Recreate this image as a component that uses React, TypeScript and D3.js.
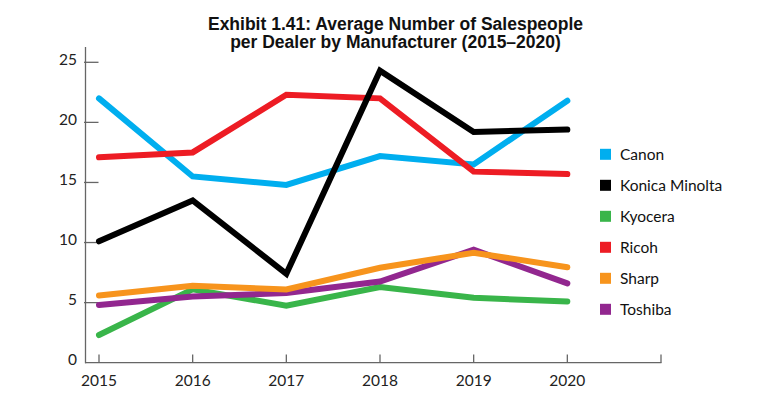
import React, { useEffect, useRef } from "react";
import * as d3 from "d3";

const years = [2015, 2016, 2017, 2018, 2019, 2020];
const yTicks = [0, 5, 10, 15, 20, 25];

const canon = [22.0, 15.5, 14.8, 17.2, 16.5, 21.8];
const konica = [10.1, 13.5, 7.4, 24.3, 19.2, 19.4];
const kyocera = [2.3, 6.1, 4.75, 6.3, 5.4, 5.1];
const ricoh = [17.1, 17.5, 22.3, 22.0, 15.9, 15.7];
const sharp = [5.6, 6.4, 6.1, 7.9, 9.15, 7.95];
const toshiba = [4.8, 5.5, 5.8, 6.75, 9.4, 6.6];

const seriesNames = ["Canon", "Konica Minolta", "Kyocera", "Ricoh", "Sharp", "Toshiba"];
const seriesValues = [canon, konica, kyocera, ricoh, sharp, toshiba];
const colors = ["#00aeef", "#000000", "#39b54a", "#ed1c24", "#f7941d", "#92278f"];
// draw order so the lines overlap like the original
const drawOrder = [2, 5, 4, 0, 3, 1];

export default function App() {
  const ref = useRef<SVGSVGElement>(null);

  useEffect(() => {
    const svg = d3.select(ref.current);
    svg.selectAll("*").remove();

    const x = d3.scaleLinear().domain([2015, 2021]).range([99, 661]);
    const y = d3.scaleLinear().domain([0, 25]).range([362.7, 62.3]);
    const axisColor = "#666";
    const font = "Lato, 'Open Sans', sans-serif";

    // title
    const title = svg.append("text")
      .attr("text-anchor", "middle")
      .attr("font-family", "'Liberation Sans', Arial, sans-serif")
      .attr("font-weight", "bold")
      .attr("font-size", 17.5)
      .attr("fill", "#111");
    title.append("tspan").attr("x", 395.5).attr("y", 29.5).text("Exhibit 1.41: Average Number of Salespeople");
    title.append("tspan").attr("x", 395.5).attr("y", 47.5).text("per Dealer by Manufacturer (2015\u20132020)");

    // axes
    svg.append("line").attr("x1", 85.5).attr("x2", 85.5).attr("y1", 47).attr("y2", 363.2)
      .attr("stroke", axisColor).attr("stroke-width", 1.3);
    svg.append("line").attr("x1", 85).attr("x2", 661.5).attr("y1", 362.7).attr("y2", 362.7)
      .attr("stroke", axisColor).attr("stroke-width", 1.3);

    svg.selectAll(".ytick").data(yTicks.filter(d => d > 0)).enter().append("line")
      .attr("x1", 84).attr("x2", 98.5)
      .attr("y1", d => y(d)).attr("y2", d => y(d))
      .attr("stroke", axisColor).attr("stroke-width", 1.3);

    svg.selectAll(".ylab").data(yTicks).enter().append("text")
      .attr("x", 77).attr("y", d => y(d) + 2.5)
      .attr("text-anchor", "end")
      .attr("font-family", font).attr("font-size", 15.5).attr("fill", "#222")
      .text(d => d);

    const xTickVals = [...years, 2021];
    svg.selectAll(".xtick").data(xTickVals).enter().append("line")
      .attr("x1", d => x(d)).attr("x2", d => x(d))
      .attr("y1", 354.5).attr("y2", 362.7)
      .attr("stroke", axisColor).attr("stroke-width", 1.3);

    svg.selectAll(".xlab").data(years).enter().append("text")
      .attr("x", d => x(d)).attr("y", 385.5)
      .attr("text-anchor", "middle")
      .attr("font-family", font).attr("font-size", 15.5).attr("fill", "#222")
      .text(d => d);

    // lines
    const line = d3.line<number>()
      .x((_, i) => x(years[i]))
      .y(d => y(d));

    drawOrder.forEach(i => {
      svg.append("path")
        .attr("d", line(seriesValues[i]))
        .attr("fill", "none")
        .attr("stroke", colors[i])
        .attr("stroke-width", 6)
        .attr("stroke-linecap", "round")
        .attr("stroke-linejoin", "miter");
    });

    // legend
    const legend = svg.selectAll(".leg").data(seriesNames).enter().append("g")
      .attr("transform", (_, i) => `translate(600, ${154.3 + i * 31})`);
    legend.append("rect")
      .attr("x", 0).attr("y", -5.5).attr("width", 11).attr("height", 11)
      .attr("fill", (_, i) => colors[i]);
    legend.append("text")
      .attr("x", 20).attr("y", 5.5)
      .attr("font-family", font).attr("font-size", 15.5).attr("fill", "#111")
      .text(d => d);
  }, []);

  return (
    <svg ref={ref} width={780} height={396}
      style={{ position: "absolute", left: 0, top: 0, background: "#fff" }} />
  );
}
